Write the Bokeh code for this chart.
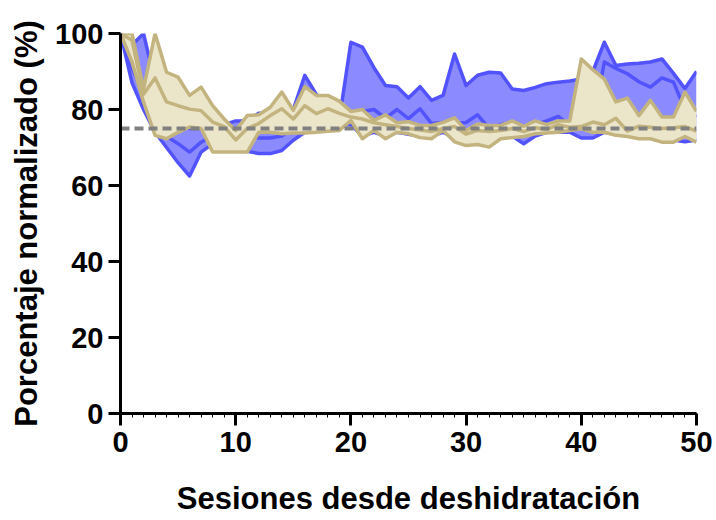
from bokeh.plotting import figure
from bokeh.models import ColumnDataSource, Range1d, FixedTicker
from bokeh.embed import file_html
from bokeh.resources import INLINE

sessions = list(range(0, 51))

blue_upper = [100, 97, 100, 87, 80, 77, 75, 75, 75, 76, 77, 77, 79, 79, 78, 80, 89, 84, 80, 77.5,
              97.7, 96.4, 91, 86.3, 86, 83, 86, 82.4, 83.7, 94.6, 86.3, 89, 89.8, 89.6, 85.4, 85,
              85.8, 86.8, 87.2, 87.5, 88, 90, 97.7, 91.6, 92, 92.2, 92.5, 93.3, 89.5, 85.5, 90]
blue_mean = [100, 91, 84, 77, 73, 71, 68.8, 71.4, 73, 74, 74.5, 73, 72.5, 72.5, 73, 75, 80, 79, 79, 78.5,
             79, 79.5, 80, 77.7, 80, 77.6, 80.2, 76.3, 76.6, 76.3, 76.6, 78.6, 75, 76, 76.6, 75.5,
             76, 77, 78.2, 75.8, 75.5, 76, 92.5, 90.8, 89.4, 87.3, 85.9, 88.3, 87.2, 80, 78]
blue_lower = [100, 87, 80, 74, 70, 66, 62.5, 68.8, 71, 71.5, 72, 69, 68.4, 68.4, 69.2, 71.9, 74, 74.5, 75, 76,
              76, 73, 74, 73, 74, 73.5, 73, 73, 74, 72.5, 72, 72, 72, 73, 73, 71, 73, 74, 74, 74,
              72.5, 72.5, 74, 73.5, 73, 73, 73, 72.5, 72, 71.5, 72]

tan_upper = [100, 100, 85.4, 100, 89.8, 88.5, 83.7, 85.9, 81, 77.5, 74.5, 78.4, 78.6, 80.6, 84.6, 79.8,
             86, 83.7, 83.7, 82.2, 79.5, 80, 77.1, 78.6, 76.5, 76.8, 75.8, 75.8, 76.6, 77.8, 74.5,
             76.2, 75.8, 75.8, 77, 75.6, 77, 76, 77, 77, 93.3, 90.5, 88, 82, 83, 78.4, 82.4, 78, 78,
             84.6, 79.5]
tan_mean = [100, 98.2, 84, 88.3, 82, 81, 80.1, 79.7, 76.7, 75.5, 72, 75, 76.3, 78.4, 80.2, 77.5, 81,
            78.9, 80.2, 79, 78, 77.5, 76.5, 76, 75.5, 75, 74.6, 74.2, 75, 75.5, 73.5, 74.5, 74.2,
            74.5, 75, 74.2, 75.2, 74.8, 76, 75.3, 75.5, 76.7, 76, 77.7, 74.3, 75.6, 75.3, 75, 75.2,
            75.5, 74.3]
tan_lower = [100, 92.5, 82, 73.2, 72.3, 74, 75.4, 75, 68.8, 68.8, 68.8, 68.8, 74, 74, 73.6, 73.8, 73.8,
             74, 74.3, 74.5, 77.1, 72.3, 74.5, 72.3, 74, 73.6, 72.6, 72.3, 74.5, 71.5, 70.5, 70.8,
             70.1, 72.3, 72.6, 72.9, 73.6, 73.8, 74, 74.5, 74.9, 74, 74, 73.2, 72.9, 72.3, 72.3,
             71.4, 71.4, 72.9, 71.4]

reference_level = 75
x_ticks = [0, 10, 20, 30, 40, 50]
y_ticks = [0, 20, 40, 60, 80, 100]

src = ColumnDataSource(dict(x=sessions, bu=blue_upper, bm=blue_mean, bl=blue_lower,
                            tu=tan_upper, tm=tan_mean, tl=tan_lower))

p = figure(width=716, height=520, output_backend="svg", toolbar_location=None,
           x_range=Range1d(0, 50), y_range=Range1d(0, 100),
           min_border_left=120, min_border_right=20, min_border_top=33, min_border_bottom=107)
p.outline_line_color = None
p.xgrid.visible = False
p.ygrid.visible = False
p.background_fill_color = "white"

BLUE_FILL = "#8b8bff"
BLUE_LINE = "#5252ff"
TAN_FILL = "#ebe5ca"
TAN_LINE = "#c3b47f"

p.varea(x="x", y1="bl", y2="bu", source=src, fill_color=BLUE_FILL)
for col in ["bu", "bm", "bl"]:
    p.line(x="x", y=col, source=src, line_color=BLUE_LINE, line_width=3.5, line_join="round")

p.varea(x="x", y1="tl", y2="tu", source=src, fill_color=TAN_FILL)
for col in ["tu", "tm", "tl"]:
    p.line(x="x", y=col, source=src, line_color=TAN_LINE, line_width=3.5, line_join="round")

p.line(x=[0, 50], y=[reference_level, reference_level], line_color="#808080",
       line_width=4, line_dash="9 5")

FONT = "Liberation Sans"
for ax in [p.xaxis[0], p.yaxis[0]]:
    ax.axis_line_width = 3
    ax.axis_line_color = "black"
    ax.major_tick_line_width = 3
    ax.major_tick_line_color = "black"
    ax.major_tick_out = 12
    ax.major_tick_in = 0
    ax.major_label_text_font = FONT
    ax.major_label_text_font_style = "bold"
    ax.major_label_text_font_size = "29px"
    ax.major_label_text_color = "black"
    ax.axis_label_text_font = FONT
    ax.axis_label_text_font_style = "bold"
    ax.axis_label_text_font_size = "31px"
    ax.axis_label_text_color = "black"

p.xaxis.ticker = FixedTicker(ticks=x_ticks, minor_ticks=list(range(0, 51)))
p.yaxis.ticker = FixedTicker(ticks=y_ticks)
p.xaxis.minor_tick_out = 4
p.xaxis.minor_tick_in = 0
p.xaxis.minor_tick_line_width = 1
p.xaxis.minor_tick_line_color = "black"
p.yaxis.minor_tick_line_color = None
p.xaxis.major_label_standoff = 6
p.yaxis.major_label_standoff = 5
p.xaxis.axis_label_standoff = 26
p.yaxis.axis_label_standoff = 8
p.xaxis.axis_label = "Sesiones desde deshidratación"
p.yaxis.axis_label = "Porcentaje normalizado (%)"

open("out.html", "w").write(file_html(p, INLINE))
